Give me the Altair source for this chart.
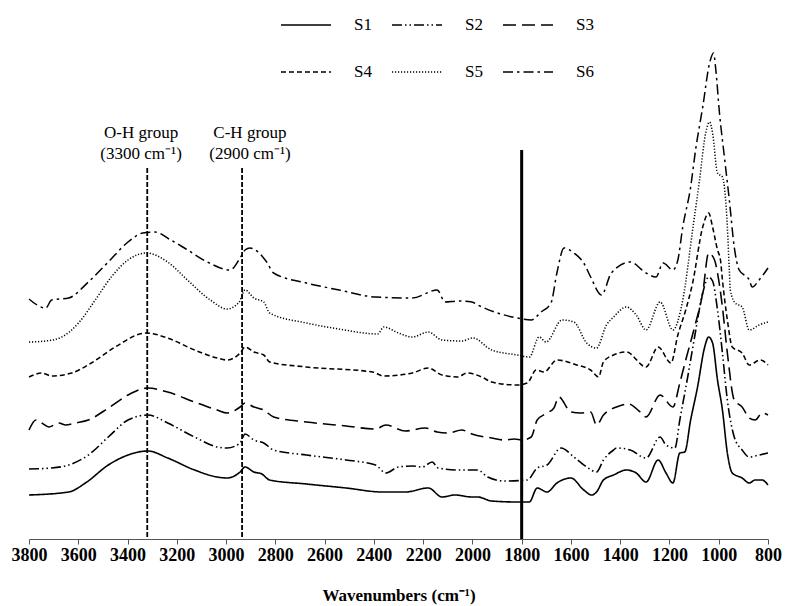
import altair as alt
import pandas as pd

SERIES = ["S1", "S2", "S3", "S4", "S5", "S6"]

S1_WN = [3800,3639,3571,3478,3398,3317,3237,3128,3036,2996,2943,2923,2887,2855,2823,2674,2513,2364,2272,2179,2123,2071,2002,1978,1922,1817,1769,1737,1697,1657,1600,1548,1516,1496,1468,1427,1375,1335,1295,1246,1214,1186,1158,1138,1114,1086,1057,1041,1025,1005,985,965,945,905,876,852,824,800]
S1_AB = [44,47,56,74,84,88,81,69,62,61,67,72,67,65,59,55,51,47,47,51,42,44,42,42,38,37,37,51,47,56,61,49,44,47,59,64,69,66,57,79,66,56,86,87,119,152,192,202,196,159,129,86,66,61,56,59,59,54]

S2_WN = [3800,3708,3639,3559,3478,3398,3317,3237,3128,3036,2996,2943,2923,2887,2847,2807,2674,2513,2393,2352,2300,2244,2204,2163,2139,2059,1978,1938,1870,1777,1737,1697,1640,1588,1536,1496,1468,1427,1415,1359,1295,1238,1214,1178,1158,1126,1098,1065,1041,1025,1005,985,965,937,905,876,836,800]
S2_AB = [70,71,74,84,102,119,124,116,102,92,91,96,105,99,96,89,84,79,74,66,72,73,72,77,71,69,69,62,58,59,71,74,91,82,72,67,79,89,91,89,81,102,94,91,119,162,202,246,262,258,229,186,139,102,89,82,84,86]

S3_WN = [3800,3772,3748,3720,3679,3651,3611,3559,3478,3398,3317,3237,3128,3036,2996,2943,2923,2887,2847,2807,2674,2513,2393,2352,2272,2191,2143,2099,2043,2002,1922,1870,1830,1797,1761,1737,1697,1669,1649,1600,1560,1520,1496,1468,1415,1367,1319,1295,1238,1186,1158,1134,1098,1065,1041,1017,1005,985,965,937,905,876,852,824,800]
S3_AB = [109,119,116,112,116,114,116,119,131,144,151,147,137,129,126,132,136,132,129,122,117,113,110,114,108,111,107,106,109,105,101,99,100,99,102,119,126,131,142,127,126,127,114,124,132,135,127,122,144,132,156,179,212,246,286,279,266,232,186,139,132,121,119,126,124]

S4_WN = [3800,3748,3708,3627,3547,3450,3325,3237,3128,3036,2996,2943,2923,2887,2847,2823,2674,2405,2360,2244,2179,2123,2059,2023,1962,1922,1817,1777,1741,1709,1657,1576,1520,1488,1468,1427,1375,1295,1246,1194,1166,1134,1106,1065,1041,1025,1005,993,985,965,945,905,876,832,800]
S4_AB = [162,166,163,166,176,192,206,201,189,181,179,186,192,187,184,177,172,167,163,166,171,164,162,166,162,157,154,156,169,167,179,174,169,162,177,184,187,172,192,176,204,229,256,312,326,312,289,279,259,219,192,186,174,179,174]

S5_WN = [3800,3732,3667,3599,3531,3466,3398,3325,3237,3157,3064,2996,2947,2923,2887,2847,2823,2674,2541,2384,2360,2300,2244,2179,2123,2043,1998,1922,1817,1769,1729,1701,1636,1588,1536,1496,1456,1427,1375,1335,1295,1238,1186,1146,1106,1078,1053,1037,1025,1005,985,965,957,953,933,905,876,836,800]
S5_AB = [197,198,202,216,239,262,279,286,277,259,239,230,237,249,241,237,226,216,210,205,212,206,202,207,199,198,201,189,184,182,202,197,219,217,196,191,214,222,232,224,209,237,209,239,309,359,406,417,406,366,362,312,269,249,236,232,209,214,217]

S6_WN = [3800,3732,3708,3639,3559,3478,3398,3338,3289,3225,3169,3076,2984,2943,2923,2903,2835,2807,2674,2541,2393,2244,2143,2111,2059,2002,1978,1910,1817,1761,1721,1681,1657,1628,1588,1548,1520,1476,1436,1359,1295,1255,1226,1186,1166,1146,1114,1094,1065,1037,1021,1013,997,977,957,937,917,876,864,836,800]
S6_AB = [240,231,239,241,257,277,297,306,307,299,291,277,269,281,289,291,277,266,256,249,242,241,249,237,238,237,234,227,221,219,227,236,266,291,286,276,262,244,266,277,266,262,276,269,279,312,352,389,432,476,486,472,426,382,339,292,269,259,252,259,271]

TICKS = [3800, 3600, 3400, 3200, 3000, 2800, 2600, 2400, 2200, 2000, 1800, 1600, 1400, 1200, 1000, 800]
GROUP_LINES_WN = [3320, 2935]
REGION_LINE_WN = [1800]
ANNO_WN = [3345, 2903]
ANNO_LINE1 = ["O-H group", "C-H group"]
ANNO_LINE2 = ["(3300 cm\u207b\u00b9)", "(2900 cm\u207b\u00b9)"]

DASHES = [[1, 0], [10, 3, 1.5, 3, 1.5, 3], [13, 6], [5, 3], [1.2, 1.8], [10, 4, 2.5, 4]]
WIDTHS = [1.6, 1.5, 1.8, 1.6, 1.3, 3.0]

rows = []
for name, wn, ab in zip(SERIES, [S1_WN, S2_WN, S3_WN, S4_WN, S5_WN, S6_WN],
                        [S1_AB, S2_AB, S3_AB, S4_AB, S5_AB, S6_AB]):
    for w, a in zip(wn, ab):
        rows.append({"series": name, "wavenumber": w, "absorbance": a})
df = pd.DataFrame(rows)

FONT = "Liberation Serif"

xenc = alt.X(
    "wavenumber:Q",
    scale=alt.Scale(domain=[800, 3800], reverse=True, nice=False, zero=False),
    axis=alt.Axis(
        values=TICKS, format="d", title="Wavenumbers  (cm\u207b\u00b9)", grid=False,
        labelFont=FONT, labelFontSize=18, labelFontWeight="bold", labelColor="black",
        labelPadding=2, labelFlush=False, labelOverlap=False,
        titleFont=FONT, titleFontSize=17, titleFontWeight="bold", titleColor="black",
        titleY=56, titleBaseline="middle",
        tickSize=5, tickColor="#555555", domainColor="#555555",
    ),
)
yscale = alt.Scale(domain=[0, 519], nice=False, zero=False)

lines = alt.Chart(df).mark_line(color="black", strokeJoin="round", interpolate="monotone").encode(
    x=xenc,
    y=alt.Y("absorbance:Q", scale=yscale, axis=None),
    strokeDash=alt.StrokeDash(
        "series:N",
        scale=alt.Scale(domain=SERIES, range=DASHES),
        legend=alt.Legend(
            title=None, orient="none", legendX=251, legendY=-21, direction="horizontal",
            columns=3, symbolType="stroke", symbolSize=2500, symbolStrokeColor="black",
            symbolStrokeWidth=1.5, labelFont=FONT, labelFontSize=17, labelColor="black",
            labelOffset=22, columnPadding=16, rowPadding=13,
        ),
    ),
    strokeWidth=alt.StrokeWidth("series:N", scale=alt.Scale(domain=SERIES, range=WIDTHS), legend=None),
)

group_df = pd.DataFrame({"wavenumber": GROUP_LINES_WN})
group_rules = alt.Chart(group_df).mark_rule(color="black", strokeDash=[5, 2], strokeWidth=1.8).encode(
    x="wavenumber:Q", y=alt.value(148), y2=alt.value(519)
)

region_df = pd.DataFrame({"wavenumber": REGION_LINE_WN})
region_rule = alt.Chart(region_df).mark_rule(color="black", strokeWidth=3).encode(
    x="wavenumber:Q", y=alt.value(130), y2=alt.value(519)
)

anno_df = pd.DataFrame({"wavenumber": ANNO_WN, "l1": ANNO_LINE1, "l2": ANNO_LINE2})
anno1 = alt.Chart(anno_df).mark_text(font=FONT, fontSize=17, color="black", baseline="middle").encode(
    x="wavenumber:Q", y=alt.value(113), text="l1:N"
)
anno2 = alt.Chart(anno_df).mark_text(font=FONT, fontSize=17, color="black", baseline="middle").encode(
    x="wavenumber:Q", y=alt.value(134), text="l2:N"
)

chart = alt.layer(lines, group_rules, region_rule, anno1, anno2).properties(
    width=739, height=519,
    autosize=alt.AutoSizeParams(type="none"),
    padding={"left": 21, "top": 12, "right": 14, "bottom": 66},
    background="white",
).configure_view(stroke=None)

chart.save("out.html", embed_options={"renderer": "svg", "actions": False})
